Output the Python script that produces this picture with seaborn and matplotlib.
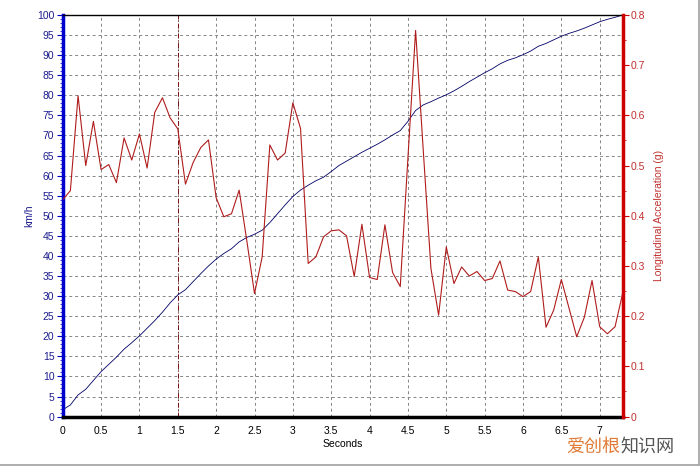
import numpy as np
import seaborn as sns
import matplotlib.pyplot as plt
from matplotlib.ticker import MultipleLocator, FuncFormatter
from matplotlib.lines import Line2D

# samples every 0.1 s
seconds = np.round(np.arange(0, 7.35, 0.1), 1)

speed_kmh = [1.7, 2.9, 5.4, 6.8, 9.0, 11.2, 13.0, 14.8, 16.8, 18.4,
             20.1, 22.0, 23.9, 26.0, 28.3, 30.3, 31.6, 33.6, 35.6, 37.5,
             39.2, 40.6, 41.8, 43.5, 44.6, 45.4, 46.4, 48.3, 50.5, 52.7,
             54.8, 56.4, 57.6, 58.7, 59.6, 61.0, 62.5, 63.6, 64.7, 65.8,
             66.8, 67.8, 68.9, 70.1, 71.2, 73.5, 76.2, 77.6, 78.4, 79.3,
             80.1, 81.1, 82.2, 83.4, 84.5, 85.6, 86.6, 87.8, 88.7, 89.3,
             90.1, 91.0, 92.2, 92.9, 93.8, 94.7, 95.4, 96.0, 96.7, 97.5,
             98.3, 98.9, 99.4, 100.0]

accel_g = [0.432, 0.450, 0.639, 0.500, 0.588, 0.492, 0.502, 0.466, 0.555, 0.511,
           0.563, 0.495, 0.606, 0.635, 0.595, 0.573, 0.463, 0.506, 0.536, 0.551,
           0.436, 0.398, 0.404, 0.451, 0.350, 0.245, 0.318, 0.541, 0.511, 0.525,
           0.625, 0.574, 0.305, 0.318, 0.358, 0.370, 0.372, 0.360, 0.279, 0.383,
           0.277, 0.273, 0.382, 0.287, 0.259, 0.515, 0.769, 0.530, 0.295, 0.202,
           0.338, 0.265, 0.298, 0.280, 0.289, 0.271, 0.275, 0.310, 0.252, 0.249,
           0.239, 0.249, 0.318, 0.178, 0.212, 0.273, 0.216, 0.159, 0.198, 0.271,
           0.179, 0.165, 0.179, 0.246]

cursor_time = 1.5

sns.set_style('white')
plt.rcParams['font.family'] = ['Liberation Sans', 'DejaVu Sans']

blue_txt = '#1c1c8c'
red_txt = '#c0302f'
short = FuncFormatter(lambda v, pos: f'{v:g}')

fig = plt.figure(figsize=(7, 4.66), dpi=100)
ax = fig.add_axes([0.0896, 0.106, 0.80, 0.862])
ax2 = ax.twinx()

# speed line
sns.lineplot(x=seconds, y=speed_kmh, ax=ax, color='#000066', lw=0.6)
ax.set_xlim(0, 7.3)
ax.set_ylim(0, 100)
ax.xaxis.set_major_locator(MultipleLocator(0.5))
ax.xaxis.set_minor_locator(MultipleLocator(0.1))
ax.xaxis.set_major_formatter(short)
ax.yaxis.set_major_locator(MultipleLocator(5))
ax.yaxis.set_minor_locator(MultipleLocator(1))
ax.grid(True, which='major', color='#858585', linestyle=(0, (3, 3)), lw=0.7)
ax.set_axisbelow(True)
ax.axvline(cursor_time, color='#7a1010', lw=0.7, linestyle=(0, (5, 2, 1, 2)), zorder=1)

# acceleration line
sns.lineplot(x=seconds, y=accel_g, ax=ax2, color='#b01c1c', lw=0.8)
ax2.set_ylim(0, 0.8)
ax2.yaxis.set_major_locator(MultipleLocator(0.1))
ax2.yaxis.set_minor_locator(MultipleLocator(0.05))
ax2.yaxis.set_major_formatter(short)

ax.tick_params(axis='x', which='major', length=4, width=0.8, labelsize=7.5, colors='black', pad=3)
ax.tick_params(axis='x', which='minor', length=2, width=0.6, colors='black')
ax.tick_params(axis='y', which='major', length=4, width=0.8, labelsize=7.5, colors='#0000c0',
               labelcolor=blue_txt, pad=2, left=True)
ax.tick_params(axis='y', which='minor', length=2, width=0.5, colors='#0000c0', left=True)
ax2.tick_params(axis='y', which='major', length=4, width=0.8, labelsize=7.5, colors='#cc0000',
                labelcolor=red_txt, pad=2, right=True)
ax2.tick_params(axis='y', which='minor', length=2, width=0.6, colors='#cc0000', right=True)

for s in ['left', 'bottom', 'top']:
    ax2.spines[s].set_visible(False)
ax.spines['right'].set_visible(False)
ax.spines['left'].set_color('#0000cc')
ax.spines['left'].set_linewidth(2.5)
ax.spines['bottom'].set_color('black')
ax.spines['bottom'].set_linewidth(2.5)
ax.spines['top'].set_color('black')
ax.spines['top'].set_linewidth(1)
ax2.spines['right'].set_color('#cc0000')
ax2.spines['right'].set_linewidth(2.5)

ax.set_xlabel('Seconds', fontsize=7.5, color='black', labelpad=2)
ax.set_ylabel('km/h', fontsize=7.5, color=blue_txt, labelpad=2)
ax2.set_ylabel('Longitudinal Acceleration (g)', fontsize=7.5, color=red_txt, labelpad=6)

# outer frame (bottom / right)
fig.add_artist(Line2D([0, 0.9985], [0.003, 0.003], color='#a0a0a0', lw=1.2))
fig.add_artist(Line2D([0.9985, 0.9985], [0.003, 1], color='#a0a0a0', lw=1.2))

# watermark
fig.text(620 / 700, 1 - 447 / 466, '爱创根', ha='right', va='center', fontsize=13,
         color='#e07a35', family=['Noto Sans CJK SC', 'DejaVu Sans'])
fig.text(620 / 700, 1 - 447 / 466, '知识网', ha='left', va='center', fontsize=13,
         color='#555555', family=['Noto Sans CJK SC', 'DejaVu Sans'])

fig.savefig('out.png', dpi=100)
